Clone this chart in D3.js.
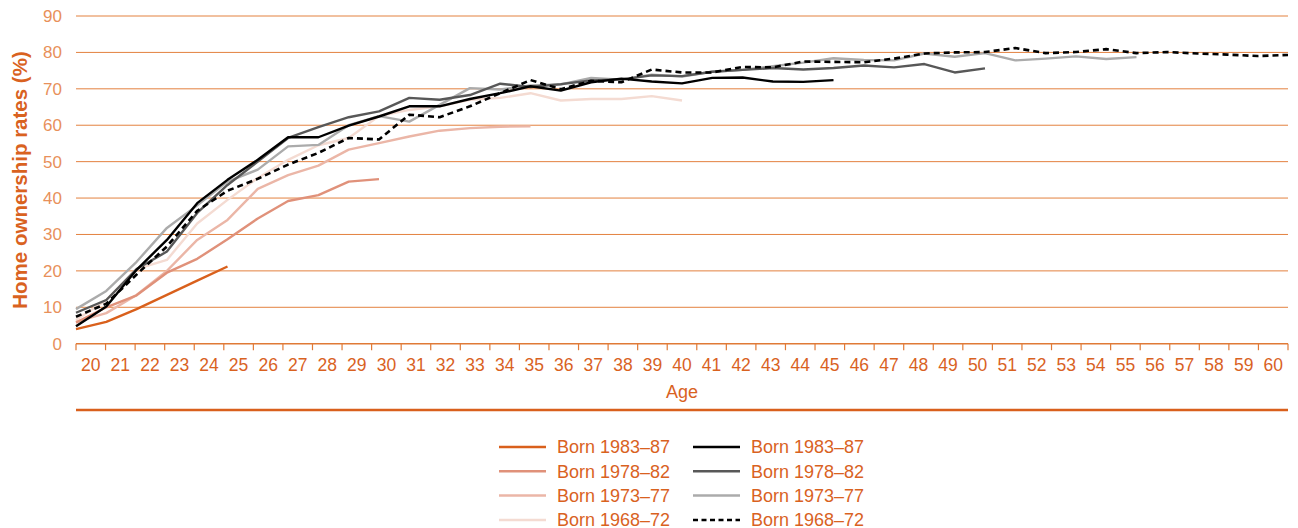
<!DOCTYPE html>
<html>
<head>
<meta charset="utf-8">
<script src="https://cdn.jsdelivr.net/npm/d3@7"></script>
<style>
  body { margin: 0; background: #fff; }
  svg { display: block; font-family: "Liberation Sans", Arial, sans-serif; }
</style>
</head>
<body>
<div id="chart"></div>
<script>
// ages on the x axis
var ages = d3.range(20, 61);
var yTicks = [0, 10, 20, 30, 40, 50, 60, 70, 80, 90];

// home ownership rates (%) by age, each cohort starts at age 20
var orange8387 = [4.0, 6.0, 9.5, 13.4, 17.3, 21.2];
var orange7882 = [5.8, 10.0, 13.3, 19.5, 23.3, 28.7, 34.4, 39.2, 40.8, 44.5, 45.2];
var orange7377 = [6.0, 8.4, 13.4, 20.0, 28.5, 34.0, 42.5, 46.3, 48.9, 53.3, 55.1,
  56.9, 58.5, 59.2, 59.6, 59.7];
var orange6872 = [6.5, 12.0, 20.5, 23.0, 33.0, 39.5, 45.5, 50.5, 54.5, 56.5, 62.5,
  64.2, 65.2, 67.0, 67.5, 68.8, 66.8, 67.2, 67.2, 68.0, 66.8];
var grey8387 = [4.8, 10.2, 20.3, 28.5, 38.6, 45.0, 50.5, 56.7, 56.7, 59.9, 62.4,
  65.2, 65.2, 67.2, 68.8, 70.7, 69.5, 71.8, 72.8, 72.0, 71.5, 73.0, 73.1, 72.0,
  71.9, 72.4];
var grey7882 = [8.5, 12.0, 20.5, 25.3, 35.9, 43.6, 50.0, 56.5, 59.5, 62.2, 63.8,
  67.5, 67.0, 68.3, 71.4, 70.5, 71.3, 72.3, 72.6, 73.7, 73.5, 74.7, 75.2, 75.7,
  75.3, 75.7, 76.4, 75.9, 76.8, 74.5, 75.6];
var grey7377 = [9.5, 14.5, 22.5, 31.8, 38.0, 44.5, 47.8, 54.2, 54.6, 60.0, 62.5,
  61.0, 65.6, 70.2, 69.8, 70.9, 71.2, 73.0, 72.5, 73.9, 73.4, 74.7, 75.2, 76.2,
  77.2, 78.4, 77.9, 77.8, 79.7, 78.8, 79.8, 77.8, 78.3, 78.9, 78.2, 78.7];
var grey6872 = [7.4, 11.0, 19.0, 26.7, 36.5, 42.0, 45.3, 49.2, 52.4, 56.5, 56.1,
  62.9, 62.2, 65.2, 68.8, 72.4, 69.9, 72.2, 71.8, 75.3, 74.5, 74.5, 76.0, 75.9,
  77.5, 77.4, 77.3, 78.3, 79.7, 80.0, 80.1, 81.2, 79.8, 80.1, 80.9, 79.8, 80.1,
  79.7, 79.4, 79.0, 79.3];

var legendNames = ["Born 1983\u201387", "Born 1978\u201382", "Born 1973\u201377", "Born 1968\u201372"];

var width = 1298;
var height = 528;
var plotLeft = 76;
var plotRight = 1288;
var plotTop = 16;
var plotBottom = 343.7;

var orangeDark = "#d9621f";

// series in drawing order
var series = [
  { values: orange6872, color: "#f4dbd2", dash: null, col: 0, row: 3 },
  { values: orange7377, color: "#ebb6a7", dash: null, col: 0, row: 2 },
  { values: orange7882, color: "#e0917a", dash: null, col: 0, row: 1 },
  { values: orange8387, color: "#d9601c", dash: null, col: 0, row: 0 },
  { values: grey7377, color: "#ababab", dash: null, col: 1, row: 2 },
  { values: grey7882, color: "#585858", dash: null, col: 1, row: 1 },
  { values: grey8387, color: "#000000", dash: null, col: 1, row: 0 },
  { values: grey6872, color: "#000000", dash: "6,4", col: 1, row: 3 }
];

var svg = d3.select("#chart")
  .append("svg")
  .attr("width", width)
  .attr("height", height);

var y = d3.scaleLinear().domain([0, 90]).range([plotBottom, plotTop]);
// labels sit in bands, the points run edge to edge
var xBand = d3.scaleBand().domain(ages).range([plotLeft, plotRight]);
var xPoint = d3.scalePoint().domain(ages).range([plotLeft, plotRight]);

// gridlines
svg.append("g")
  .selectAll("line")
  .data(yTicks.slice(1))
  .enter()
  .append("line")
  .attr("x1", plotLeft)
  .attr("x2", plotRight)
  .attr("y1", d => y(d))
  .attr("y2", d => y(d))
  .attr("stroke", "#e3813f")
  .attr("stroke-width", 1);

// y labels
var yAxis = d3.axisLeft(y).tickValues(yTicks).tickSize(0).tickPadding(14);
var gy = svg.append("g")
  .attr("transform", "translate(" + plotLeft + ",0)")
  .call(yAxis);
gy.select(".domain").remove();
gy.selectAll("text")
  .attr("fill", "#e8905a")
  .attr("font-size", 17)
  .attr("font-family", "Liberation Sans, Arial, sans-serif");

// x axis line and tick marks at band edges
svg.append("line")
  .attr("x1", plotLeft).attr("x2", plotRight)
  .attr("y1", plotBottom).attr("y2", plotBottom)
  .attr("stroke", "#e07a37")
  .attr("stroke-width", 1.5);

var edges = ages.map(d => xBand(d)).concat([plotRight]);
svg.append("g")
  .selectAll("line")
  .data(edges)
  .enter()
  .append("line")
  .attr("x1", d => d).attr("x2", d => d)
  .attr("y1", plotBottom).attr("y2", plotBottom + 6.5)
  .attr("stroke", "#e07a37")
  .attr("stroke-width", 1.2);

var xAxis = d3.axisBottom(xBand).tickSize(0).tickPadding(15);
var gx = svg.append("g")
  .attr("transform", "translate(0," + plotBottom + ")")
  .call(xAxis);
gx.select(".domain").remove();
gx.selectAll("text")
  .attr("fill", orangeDark)
  .attr("font-size", 17.5)
  .attr("font-family", "Liberation Sans, Arial, sans-serif");

// axis titles
svg.append("text")
  .attr("x", (plotLeft + plotRight) / 2)
  .attr("y", 398)
  .attr("text-anchor", "middle")
  .attr("fill", orangeDark)
  .attr("font-size", 18)
  .text("Age");

svg.append("text")
  .attr("transform", "translate(27," + 180 + ") rotate(-90)")
  .attr("text-anchor", "middle")
  .attr("fill", orangeDark)
  .attr("font-size", 20.5)
  .attr("font-weight", "bold")
  .text("Home ownership rates (%)");

// separator under the axis
svg.append("line")
  .attr("x1", plotLeft).attr("x2", plotRight)
  .attr("y1", 410).attr("y2", 410)
  .attr("stroke", "#d9601c")
  .attr("stroke-width", 2.5);

// lines
var line = d3.line()
  .x((d, i) => xPoint(ages[i]))
  .y(d => y(d));

svg.append("g")
  .selectAll("path")
  .data(series)
  .enter()
  .append("path")
  .attr("d", d => line(d.values))
  .attr("fill", "none")
  .attr("stroke", d => d.color)
  .attr("stroke-width", d => d.dash ? 2.6 : 2.4)
  .attr("stroke-dasharray", d => d.dash)
  .attr("stroke-linejoin", "round");

// legend, two columns of four
var legendX = [499, 693];
var legendY0 = 447;
var legendStep = 24.3;

var legend = svg.append("g")
  .selectAll("g")
  .data(series)
  .enter()
  .append("g")
  .attr("transform", d => "translate(" + legendX[d.col] + "," + (legendY0 + d.row * legendStep) + ")");

legend.append("line")
  .attr("x1", 0).attr("x2", 47)
  .attr("stroke", d => d.color)
  .attr("stroke-width", 2.5)
  .attr("stroke-dasharray", d => d.dash ? "5,3.5" : null);

legend.append("text")
  .attr("x", 58)
  .attr("dy", "0.35em")
  .attr("fill", orangeDark)
  .attr("font-size", 18)
  .text(d => legendNames[d.row]);
</script>
</body>
</html>
